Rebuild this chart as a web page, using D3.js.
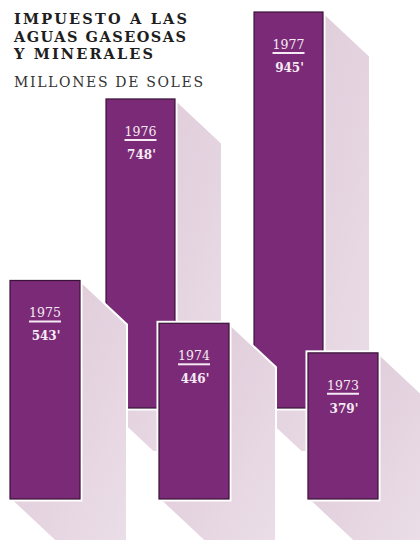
<!DOCTYPE html>
<html>
<head>
<meta charset="utf-8">
<script src="https://cdn.jsdelivr.net/npm/d3@7"></script>
<style>
  body { margin: 0; background: #ffffff; }
  svg { display: block; }
</style>
</head>
<body>
<div id="chart"></div>
<script>
// data
const years = ["1973", "1974", "1975", "1976", "1977"];
const values = [379, 446, 543, 748, 945];
const valueLabels = ["379'", "446'", "543'", "748'", "945'"];
const frontRow = ["1975", "1974", "1973"];
const backRow = ["1976", "1977"];
const titleLines = ["IMPUESTO A LAS", "AGUAS GASEOSAS", "Y MINERALES"];
const subtitle = "MILLONES DE SOLES";

const width = 420,
  height = 540,
  frontBase = 499,
  backBase = 408,
  depth = { x: 47, y: 44 };

const data = years.map((y, i) => ({ year: y, value: values[i], label: valueLabels[i] }));

const svg = d3.select("#chart")
  .append("svg")
  .attr("width", width)
  .attr("height", height);

// bar heights (picture is drawn with an offset baseline)
const hScale = d3.scaleLinear()
  .domain([48, 945])
  .range([0, 396]);

const xFront = d3.scaleBand()
  .domain(frontRow)
  .range([10, 378])
  .paddingInner(0.53)
  .paddingOuter(0);

const xBack = d3.scaleBand()
  .domain(backRow)
  .range([106, 323])
  .paddingInner(0.534)
  .paddingOuter(0);

function geom(d) {
  const front = frontRow.includes(d.year);
  const sc = front ? xFront : xBack;
  const base = front ? frontBase : backBase;
  const x0 = sc(d.year), x1 = x0 + sc.bandwidth();
  const y1 = base, y0 = base - hScale(d.value);
  return { x0, x1, y0, y1 };
}

function shadowPath(d) {
  const g = geom(d);
  return d3.line()([
    [g.x0, g.y0], [g.x1, g.y0],
    [g.x1 + depth.x, g.y0 + depth.y],
    [g.x1 + depth.x, g.y1 + depth.y],
    [g.x0 + depth.x, g.y1 + depth.y],
    [g.x0, g.y1]
  ]) + "Z";
}

const grad = svg.append("defs").append("linearGradient")
  .attr("id", "shade")
  .attr("x1", "0").attr("y1", "0")
  .attr("x2", "1").attr("y2", "1");
grad.append("stop").attr("offset", "0%").attr("stop-color", "#dcc7d6");
grad.append("stop").attr("offset", "100%").attr("stop-color", "#ebdee8");

function drawRow(rowYears) {
  const rows = data.filter(d => rowYears.includes(d.year));

  svg.append("g").selectAll("path")
    .data(rows)
    .join("path")
    .attr("d", shadowPath)
    .attr("fill", "url(#shade)")
    .attr("stroke", "#ffffff")
    .attr("stroke-width", 2);

  const bars = svg.append("g").selectAll("g")
    .data(rows)
    .join("g");

  // white outline round each bar
  bars.append("rect")
    .attr("x", d => geom(d).x0 - 2.5)
    .attr("y", d => geom(d).y0 - 2.5)
    .attr("width", d => geom(d).x1 - geom(d).x0 + 5)
    .attr("height", d => geom(d).y1 - geom(d).y0 + 5)
    .attr("fill", "#ffffff");

  bars.append("rect")
    .attr("x", d => geom(d).x0)
    .attr("y", d => geom(d).y0)
    .attr("width", d => geom(d).x1 - geom(d).x0)
    .attr("height", d => geom(d).y1 - geom(d).y0)
    .attr("fill", "#7a2a76")
    .attr("stroke", "#3a1437")
    .attr("stroke-width", 1.2);

  const cx = d => (geom(d).x0 + geom(d).x1) / 2;

  bars.append("text")
    .attr("x", cx)
    .attr("y", d => geom(d).y0 + 37)
    .attr("text-anchor", "middle")
    .attr("font-family", "DejaVu Serif, serif")
    .attr("font-size", 12.5)
    .attr("fill", "#f6eaf4")
    .text(d => d.year);

  bars.append("line")
    .attr("x1", d => cx(d) - 16)
    .attr("x2", d => cx(d) + 16)
    .attr("y1", d => geom(d).y0 + 41)
    .attr("y2", d => geom(d).y0 + 41)
    .attr("stroke", "#f6eaf4")
    .attr("stroke-width", 2);

  bars.append("text")
    .attr("x", d => cx(d) + 1)
    .attr("y", d => geom(d).y0 + 60)
    .attr("text-anchor", "middle")
    .attr("font-family", "DejaVu Serif, serif")
    .attr("font-weight", "bold")
    .attr("font-size", 12)
    .attr("fill", "#f6eaf4")
    .text(d => d.label);
}

drawRow(backRow);
drawRow(frontRow);

// title block
svg.append("g").selectAll("text")
  .data(titleLines)
  .join("text")
  .attr("x", 14)
  .attr("y", (d, i) => 24 + i * 17.5)
  .attr("font-family", "DejaVu Serif, serif")
  .attr("font-weight", "bold")
  .attr("font-size", 14.5)
  .attr("fill", "#1e1e1e")
  .attr("textLength", (d, i) => [173, 172, 139][i])
  .attr("lengthAdjust", "spacing")
  .text(d => d);

svg.append("text")
  .attr("x", 14)
  .attr("y", 87)
  .attr("font-family", "DejaVu Serif, serif")
  .attr("font-size", 14)
  .attr("fill", "#333")
  .attr("textLength", 189)
  .attr("lengthAdjust", "spacing")
  .text(subtitle);
</script>
</body>
</html>
